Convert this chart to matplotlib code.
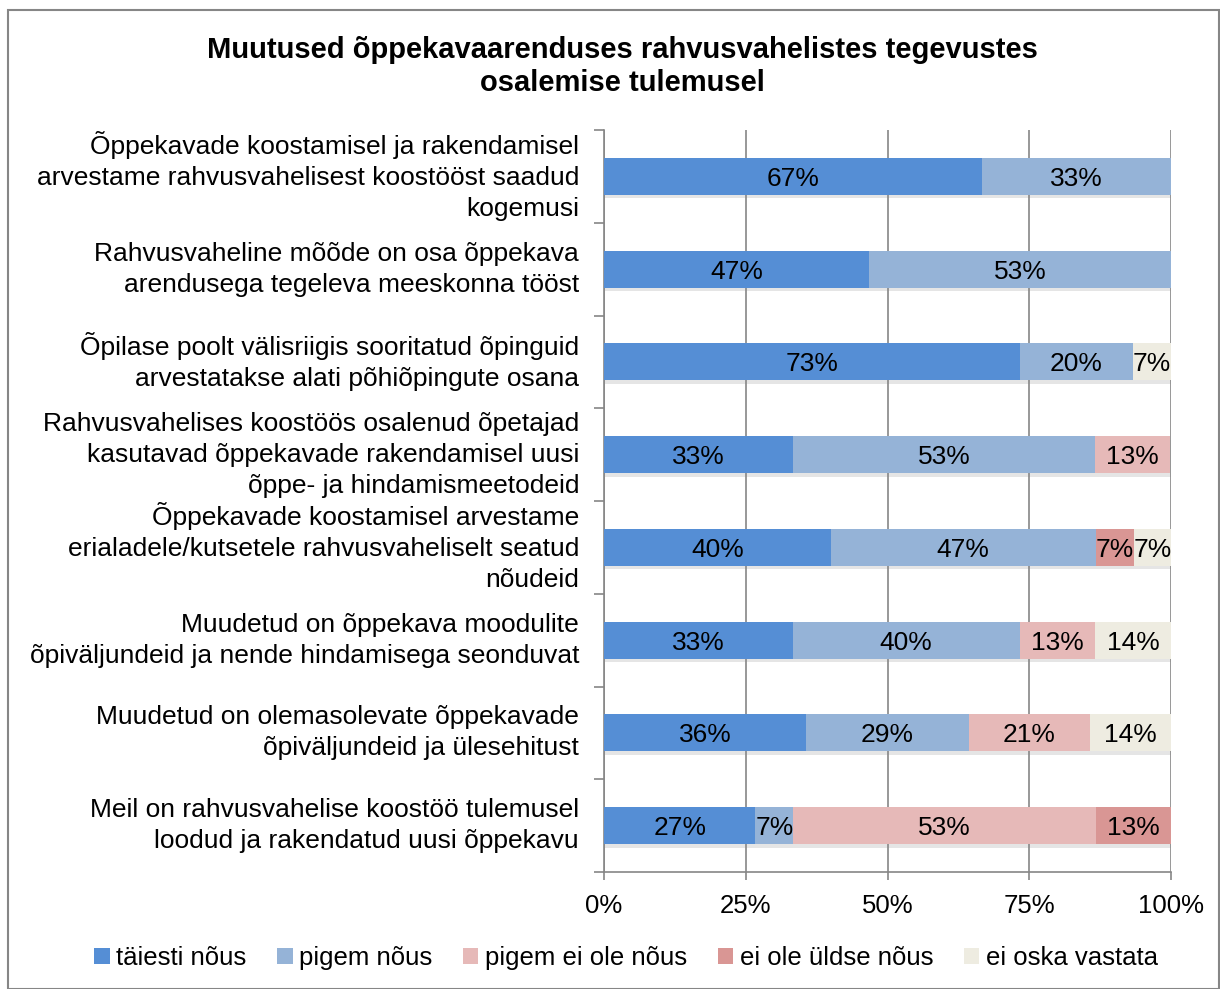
import matplotlib
matplotlib.use("Agg")
import matplotlib.pyplot as plt
import matplotlib.patheffects as pe
import numpy as np

plt.rcParams['font.family'] = ['Liberation Sans', 'DejaVu Sans']

title = "Muutused õppekavaarenduses rahvusvahelistes tegevustes\nosalemise tulemusel"

categories = [
    "Õppekavade koostamisel ja rakendamisel\narvestame rahvusvahelisest koostööst saadud\nkogemusi",
    "Rahvusvaheline mõõde on osa õppekava\narendusega tegeleva meeskonna tööst",
    "Õpilase poolt välisriigis sooritatud õpinguid\narvestatakse alati põhiõpingute osana",
    "Rahvusvahelises koostöös osalenud õpetajad\nkasutavad õppekavade rakendamisel uusi\nõppe- ja hindamismeetodeid",
    "Õppekavade koostamisel arvestame\nerialadele/kutsetele rahvusvaheliselt seatud\nnõudeid",
    "Muudetud on õppekava moodulite\nõpiväljundeid ja nende hindamisega seonduvat",
    "Muudetud on olemasolevate õppekavade\nõpiväljundeid ja ülesehitust",
    "Meil on rahvusvahelise koostöö tulemusel\nloodud ja rakendatud uusi õppekavu",
]

series_names = ["täiesti nõus", "pigem nõus", "pigem ei ole nõus", "ei ole üldse nõus", "ei oska vastata"]
taiesti = [66.7, 46.7, 73.3, 33.3, 40.0, 33.3, 35.7, 26.7]
pigem = [33.3, 53.3, 20.0, 53.3, 46.7, 40.0, 28.6, 6.7]
pigem_ei = [0, 0, 0, 13.3, 0, 13.3, 21.4, 53.3]
ei_ole = [0, 0, 0, 0, 6.7, 0, 0, 13.3]
ei_oska = [0, 0, 6.7, 0, 6.7, 13.5, 14.3, 0]
series = [taiesti, pigem, pigem_ei, ei_ole, ei_oska]
colors = ["#558ED5", "#95B3D7", "#E6B9B8", "#D99694", "#EEECE1"]

xticks = [0, 25, 50, 75, 100]
xticklabels = ["0%", "25%", "50%", "75%", "100%"]

fig = plt.figure(figsize=(12.2, 9.89), dpi=100)
ax = fig.add_axes([604/1220, 1-872/989, (1171-604)/1220, (872-130)/989])

n = len(categories)
y = np.arange(n)
left = np.zeros(n)
grid_c = "#868686"
shadow = [pe.SimplePatchShadow(offset=(1.0, -2.5), shadow_rgbFace="#8a8a8a", alpha=0.22), pe.Normal()]
for vals, name, col in zip(series, series_names, colors):
    vals = np.array(vals, dtype=float)
    bars = ax.barh(y, vals, left=left, height=0.4, color=col, label=name, zorder=3)
    for b in bars:
        b.set_path_effects(shadow)
    for yi, (l, v) in enumerate(zip(left, vals)):
        if v > 0:
            ax.text(l + v/2, yi, f"{int(v + 0.5)}%", ha='center', va='center_baseline',
                    fontsize=19, color='black', zorder=4)
    left += vals

ax.set_xlim(0, 100)
ax.set_ylim(n - 0.5, -0.5)
ax.set_xticks(xticks)
ax.set_xticklabels(xticklabels, fontsize=18.5)
ax.set_yticks(y)
ax.set_yticklabels(categories, fontsize=19, linespacing=1.37)
for lab in ax.get_yticklabels():
    lab.set_verticalalignment('center')
ax.set_yticks(np.arange(-0.5, n, 1.0), minor=True)
ax.tick_params(axis='y', which='major', length=0, pad=18)
ax.tick_params(axis='y', which='minor', length=7, color=grid_c, width=1.2)
ax.tick_params(axis='x', length=6, color=grid_c, width=1.2, pad=10)
ax.xaxis.grid(True, color=grid_c, linewidth=1.2, zorder=0)
ax.set_axisbelow(True)
for s in ['top', 'right']:
    ax.spines[s].set_visible(False)
for s in ['left', 'bottom']:
    ax.spines[s].set_color(grid_c)
    ax.spines[s].set_linewidth(1.2)

fig.text(622/1220, 1-66.5/989, title, ha='center', va='center', fontsize=21,
         fontweight='bold', linespacing=1.2)

handles, labels = ax.get_legend_handles_labels()
leg = fig.legend(handles, labels, loc='center', bbox_to_anchor=(626/1220, 1-958/989), ncol=5,
                 frameon=False, fontsize=18.5, handlelength=0.6, handleheight=0.6,
                 handletextpad=0.25, columnspacing=1.2)
for h in leg.legend_handles:
    h.set_path_effects([])

border = plt.Rectangle((8/1220, 0.0), 1 - 8/1220 - 0.0005, 1 - 10/989, transform=fig.transFigure,
                       fill=False, edgecolor="#868686", linewidth=1.5)
fig.patches.append(border)

fig.savefig("out.png", dpi=100)
